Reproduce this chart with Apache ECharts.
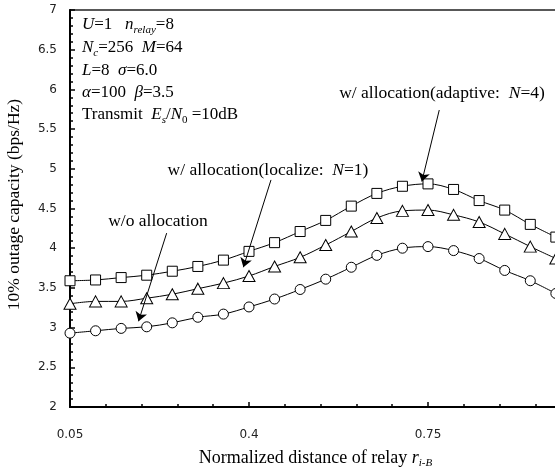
<!DOCTYPE html>
<html>
<head>
<meta charset="utf-8">
<script src="https://cdn.jsdelivr.net/npm/echarts@6/dist/echarts.min.js"></script>
<style>
  html, body { margin: 0; padding: 0; background: #fff; }
  #main { width: 555px; height: 468px; }
</style>
</head>
<body>
<div id="main"></div>
<script>
// relay distance (x) and 10% outage capacity of each scheme
var xValues = [0.05, 0.10, 0.15, 0.20, 0.25, 0.30, 0.35, 0.40, 0.45, 0.50,
               0.55, 0.60, 0.65, 0.70, 0.75, 0.80, 0.85, 0.90, 0.95, 1.00];
var noAlloc = [2.93, 2.96, 2.99, 3.01, 3.06, 3.13, 3.17, 3.26, 3.36, 3.48,
               3.61, 3.76, 3.91, 4.00, 4.02, 3.97, 3.87, 3.72, 3.59, 3.43];
var localize = [3.30, 3.33, 3.33, 3.37, 3.42, 3.49, 3.56, 3.65, 3.77, 3.885,
                4.04, 4.21, 4.38, 4.47, 4.48, 4.42, 4.33, 4.18, 4.02, 3.87];
var adaptive = [3.59, 3.60, 3.63, 3.66, 3.71, 3.77, 3.85, 3.96, 4.07, 4.21,
                4.35, 4.53, 4.69, 4.78, 4.81, 4.74, 4.60, 4.48, 4.30, 4.14];

// parameter box, one entry per line
var paramLines = [
    '{i|U}=1   {i|n}{isub|relay}=8',
    '{i|N}{isub|c}=256  {i|M}=64',
    '{i|L}=8  {i|σ}=6.0',
    '{i|α}=100  {i|β}=3.5',
    'Transmit  {i|E}{isub|s}/{i|N}{sub|0} =10dB'
];

// arrow annotations: [text, from(x,y), to(x,y)] in data units
var notes = [
    ['w/ allocation(adaptive:  {i|N}=4)', [0.772, 5.74], [0.738, 4.84]],
    ['w/ allocation(localize:  {i|N}=1)', [0.443, 4.86], [0.389, 3.76]],
    ['w/o allocation', [0.239, 4.19], [0.184, 3.08]]
];

var serif = '"Liberation Serif", "Times New Roman", serif';
var richStyle = {
    i: { fontFamily: serif, fontStyle: 'italic', fontSize: 17, lineHeight: 22 },
    isub: { fontFamily: serif, fontStyle: 'italic', fontSize: 11, lineHeight: 11, verticalAlign: 'bottom' },
    sub: { fontFamily: serif, fontSize: 11, lineHeight: 11, verticalAlign: 'bottom' }
};
var noteRich = {
    i: { fontFamily: serif, fontStyle: 'italic', fontSize: 17.5, lineHeight: 22 }
};

function pairs(ys) {
    return xValues.map(function (x, k) { return [x, ys[k]]; });
}

var myChart = echarts.init(document.getElementById('main'));

var graphics = [];
var lineY = [25, 48, 70.5, 93, 115];
paramLines.forEach(function (t, k) {
    graphics.push({
        type: 'text', x: 82, y: lineY[k],
        style: {
            text: t, rich: richStyle, fontFamily: serif, fontSize: 17, lineHeight: 22,
            fill: '#000', align: 'left', verticalAlign: 'middle'
        }
    });
});
var notePos = [[442, 93], [268, 170], [158, 221]];
notes.forEach(function (n, k) {
    graphics.push({
        type: 'text', x: notePos[k][0], y: notePos[k][1],
        style: {
            text: n[0], rich: noteRich, fontFamily: serif, fontSize: 17.5, lineHeight: 22,
            fill: '#000', align: 'center', verticalAlign: 'middle'
        }
    });
});

function makeSeries(name, ys, symbol, size) {
    return {
        name: name,
        type: 'line',
        data: pairs(ys),
        smooth: 0.35,
        symbol: symbol,
        symbolSize: size,
        showAllSymbol: true,
        lineStyle: { color: '#000', width: 1 },
        itemStyle: { color: '#fff', borderColor: '#000', borderWidth: 1 },
        z: 3
    };
}

var series = [
    makeSeries('w/ allocation(adaptive: N=4)', adaptive, 'rect', 10),
    makeSeries('w/ allocation(localize: N=1)', localize, 'triangle', [12, 11]),
    makeSeries('w/o allocation', noAlloc, 'circle', 10)
];
series[0].markLine = {
    silent: true,
    symbol: ['none', 'arrow'],
    symbolSize: 9,
    label: { show: false },
    lineStyle: { color: '#000', width: 1, type: 'solid' },
    data: notes.map(function (n) {
        return [{ coord: n[1] }, { coord: n[2] }];
    })
};

var option = {
    animation: false,
    backgroundColor: '#fff',
    grid: {
        left: 70, top: 10, right: -52, bottom: 61,
        outerBoundsMode: 'none', containLabel: false,
        show: true, borderColor: '#222', borderWidth: 1.5
    },
    xAxis: {
        type: 'value',
        min: 0.05, max: 1.1, interval: 0.35,
        name: '{t|Normalized distance of relay }{i|r}{isub|i-B}',
        nameLocation: 'middle',
        nameGap: 40,
        nameTextStyle: {
            fontFamily: serif, fontSize: 18, color: '#000',
            padding: [0, 46, 0, 0],
            rich: {
                t: { fontFamily: serif, fontSize: 18, lineHeight: 22 },
                i: { fontFamily: serif, fontStyle: 'italic', fontSize: 18, lineHeight: 22 },
                isub: richStyle.isub
            }
        },
        axisLine: { lineStyle: { color: '#000', width: 2 } },
        axisTick: { inside: true, length: 5, lineStyle: { color: '#000', width: 1.5 } },
        minorTick: { show: true, splitNumber: 5, length: 3, lineStyle: { color: '#000', width: 1.5 } },
        splitLine: { show: false },
        axisLabel: {
            margin: 22, fontFamily: 'DejaVu Sans', fontSize: 12, color: '#222',
            formatter: function (v) { return String(+v.toFixed(2)); }
        }
    },
    yAxis: {
        type: 'value',
        min: 2, max: 7, interval: 0.5,
        name: '10% outage capacity (bps/Hz)',
        nameLocation: 'middle',
        nameGap: 47,
        nameTextStyle: { fontFamily: serif, fontSize: 17.5, color: '#000', padding: [0, 0, 0, 8] },
        axisLine: { lineStyle: { color: '#000', width: 2 } },
        axisTick: { inside: true, length: 5, lineStyle: { color: '#000', width: 1.5 } },
        minorTick: { show: true, splitNumber: 5, length: 3, lineStyle: { color: '#000', width: 1.5 } },
        splitLine: { show: false },
        axisLabel: { margin: 13, fontFamily: 'DejaVu Sans', fontSize: 12, color: '#222' }
    },
    graphic: graphics,
    series: series
};

myChart.setOption(option);
window.addEventListener('resize', function () {
    myChart.resize();
});
</script>
</body>
</html>
